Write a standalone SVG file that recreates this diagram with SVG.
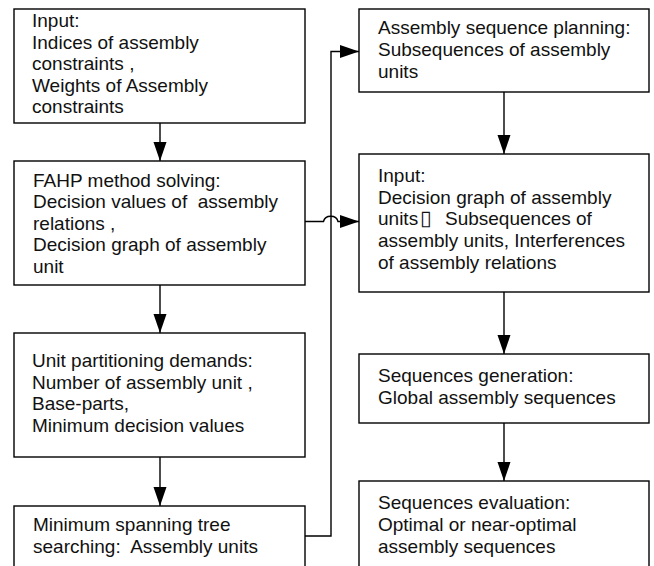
<svg xmlns="http://www.w3.org/2000/svg" width="654" height="566" viewBox="0 0 654 566">
<style>
.box{fill:#fff;stroke:#000;stroke-width:1.4}
.t{font-family:"Liberation Sans",Arial,sans-serif;font-size:19px;fill:#111;white-space:pre}
.ln{fill:none;stroke:#000;stroke-width:1.4}
</style>
<defs>
<marker id="ah" markerUnits="userSpaceOnUse" markerWidth="20" markerHeight="14" refX="19" refY="6.5" orient="auto">
<path d="M0,0 L19,6.5 L0,13 Z" fill="#000"/>
</marker>
</defs>
<rect width="654" height="566" fill="#fff"/>
<g id="n1">
<rect class="box" x="14" y="9" width="291" height="114"/>
<text class="t" x="32" y="27">Input:</text>
<text class="t" x="32" y="48.5">Indices of assembly</text>
<text class="t" x="32" y="70">constraints ,</text>
<text class="t" x="32" y="91.5">Weights of Assembly</text>
<text class="t" x="32" y="113">constraints</text>
</g>
<g id="n2">
<rect class="box" x="14" y="161" width="291" height="124"/>
<text class="t" x="33" y="186.5">FAHP method solving:</text>
<text class="t" x="33" y="208" xml:space="preserve">Decision values of  assembly</text>
<text class="t" x="33" y="229.5">relations ,</text>
<text class="t" x="33" y="251">Decision graph of assembly</text>
<text class="t" x="33" y="272.5">unit</text>
</g>
<g id="n3">
<rect class="box" x="14" y="333" width="291" height="124"/>
<text class="t" x="32" y="367">Unit partitioning demands:</text>
<text class="t" x="32" y="388.5">Number of assembly unit ,</text>
<text class="t" x="32" y="410">Base-parts,</text>
<text class="t" x="32" y="432">Minimum decision values</text>
</g>
<g id="n4">
<rect class="box" x="14" y="506" width="291" height="80"/>
<text class="t" x="33" y="531">Minimum spanning tree</text>
<text class="t" x="33" y="553" xml:space="preserve">searching:  Assembly units</text>
</g>
<g id="n5">
<rect class="box" x="359" y="9" width="290" height="83"/>
<text class="t" x="378" y="34">Assembly sequence planning:</text>
<text class="t" x="378" y="56">Subsequences of assembly</text>
<text class="t" x="378" y="78">units</text>
</g>
<g id="n6">
<rect class="box" x="359" y="154" width="290" height="138"/>
<text class="t" x="378" y="181.5">Input:</text>
<text class="t" x="378" y="203.5">Decision graph of assembly</text>
<text class="t" y="225"><tspan x="378">units</tspan><tspan x="420" font-family="DejaVu Sans" font-size="21">▯</tspan><tspan x="445">Subsequences of</tspan></text>
<text class="t" x="378" y="247">assembly units, Interferences</text>
<text class="t" x="378" y="269">of assembly relations</text>
</g>
<g id="n7">
<rect class="box" x="359" y="354" width="290" height="69"/>
<text class="t" x="378" y="382">Sequences generation:</text>
<text class="t" x="378" y="404">Global assembly sequences</text>
</g>
<g id="n8">
<rect class="box" x="359" y="481" width="290" height="100"/>
<text class="t" x="378" y="508.5">Sequences evaluation:</text>
<text class="t" x="378" y="530.5">Optimal or near-optimal</text>
<text class="t" x="378" y="552.5">assembly sequences</text>
</g>
<g id="connectors">
<path class="ln" d="M160,123 V161" marker-end="url(#ah)"/>
<path class="ln" d="M160,285 V333" marker-end="url(#ah)"/>
<path class="ln" d="M160,457 V506" marker-end="url(#ah)"/>
<path class="ln" d="M305,536 H331 V51.5 H359" marker-end="url(#ah)"/>
<path class="ln" d="M305,221.5 H323.5 C325,214.5 336.5,214.5 338,221.5 H359" marker-end="url(#ah)"/>
<path class="ln" d="M504,92 V154" marker-end="url(#ah)"/>
<path class="ln" d="M504,292 V354" marker-end="url(#ah)"/>
<path class="ln" d="M504,423 V481" marker-end="url(#ah)"/>
</g>
</svg>
